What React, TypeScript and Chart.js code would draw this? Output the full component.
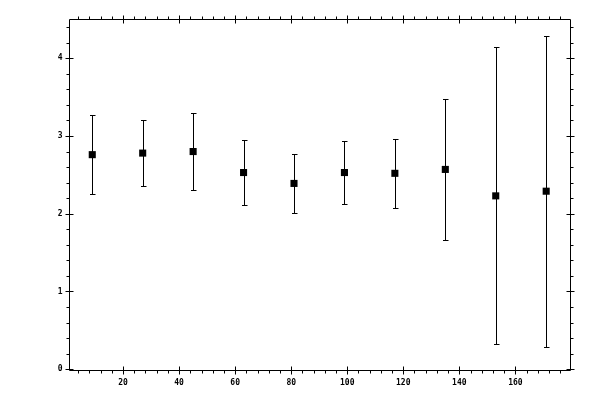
import { useEffect, useRef } from "react";
import { Chart, registerables } from "chart.js";

Chart.register(...registerables);

// bin centres and mean values with symmetric errors
const binCenters = [9, 27, 45, 63, 81, 99, 117, 135, 153, 171];
const means = [2.76, 2.78, 2.8, 2.53, 2.39, 2.53, 2.52, 2.57, 2.23, 2.29];
const errors = [0.51, 0.42, 0.5, 0.42, 0.38, 0.41, 0.44, 0.91, 1.91, 2.0];

const xMajorTicks = [20, 40, 60, 80, 100, 120, 140, 160];
const xMinorTicks = [4, 8, 12, 16, 24, 28, 32, 36, 44, 48, 52, 56, 64, 68, 72, 76, 84, 88, 92, 96, 104, 108, 112, 116, 124, 128, 132, 136, 144, 148, 152, 156, 164, 168, 172, 176];
const yMajorTicks = [0, 1, 2, 3, 4];
const yMinorTicks = [0.2, 0.4, 0.6, 0.8, 1.2, 1.4, 1.6, 1.8, 2.2, 2.4, 2.6, 2.8, 3.2, 3.4, 3.6, 3.8, 4.2, 4.4];

const errorBars = {
  id: "errorBars",
  beforeDatasetsDraw(chart: any) {
    const { ctx, scales } = chart;
    const x = scales.x;
    const y = scales.y;
    ctx.save();
    ctx.strokeStyle = "#000";
    ctx.lineWidth = 1;
    binCenters.forEach((c, i) => {
      const px = Math.round(x.getPixelForValue(c)) + 0.5;
      const top = Math.round(y.getPixelForValue(means[i] + errors[i])) + 0.5;
      const bot = Math.round(y.getPixelForValue(means[i] - errors[i])) + 0.5;
      ctx.beginPath();
      ctx.moveTo(px, top);
      ctx.lineTo(px, bot);
      ctx.moveTo(px - 2.5, top);
      ctx.lineTo(px + 3, top);
      ctx.moveTo(px - 2.5, bot);
      ctx.lineTo(px + 3, bot);
      ctx.stroke();
    });
    ctx.restore();
  },
};

const frame = {
  id: "frame",
  afterDraw(chart: any) {
    const { ctx, chartArea, scales } = chart;
    const { left, right, top, bottom } = chartArea;
    const L = Math.round(left) + 0.5;
    const R = Math.round(right) + 0.5;
    const T = Math.round(top) + 0.5;
    const B = Math.round(bottom) + 0.5;
    ctx.save();
    ctx.strokeStyle = "#000";
    ctx.lineWidth = 1;
    ctx.beginPath();
    ctx.rect(L, T, R - L, B - T);
    ctx.stroke();

    ctx.beginPath();
    xMinorTicks.forEach((v) => {
      const px = Math.round(scales.x.getPixelForValue(v)) + 0.5;
      ctx.moveTo(px, B);
      ctx.lineTo(px, B + 3);
      ctx.moveTo(px, T);
      ctx.lineTo(px, T - 3);
    });
    xMajorTicks.forEach((v) => {
      const px = Math.round(scales.x.getPixelForValue(v)) + 0.5;
      ctx.moveTo(px, B - 4);
      ctx.lineTo(px, B + 4);
      ctx.moveTo(px, T - 4);
      ctx.lineTo(px, T + 4);
    });
    yMinorTicks.forEach((v) => {
      const py = Math.round(scales.y.getPixelForValue(v)) + 0.5;
      ctx.moveTo(L, py);
      ctx.lineTo(L - 3, py);
      ctx.moveTo(R, py);
      ctx.lineTo(R + 3, py);
    });
    yMajorTicks.forEach((v) => {
      const py = Math.round(scales.y.getPixelForValue(v)) + 0.5;
      ctx.moveTo(L - 4, py);
      ctx.lineTo(L + 4, py);
      ctx.moveTo(R - 4, py);
      ctx.lineTo(R + 4, py);
    });
    ctx.stroke();

    ctx.fillStyle = "#000";
    ctx.font = "bold 8px 'DejaVu Sans Mono'";
    ctx.textAlign = "center";
    ctx.textBaseline = "middle";
    xMajorTicks.forEach((v) => {
      ctx.fillText(String(v), scales.x.getPixelForValue(v), B + 12);
    });
    ctx.textAlign = "right";
    yMajorTicks.forEach((v) => {
      ctx.fillText(String(v), L - 7, scales.y.getPixelForValue(v));
    });
    ctx.restore();
  },
};

export default function App() {
  const canvasRef = useRef<HTMLCanvasElement>(null);

  useEffect(() => {
    if (!canvasRef.current) return;
    const chart = new Chart(canvasRef.current, {
      type: "scatter",
      data: {
        datasets: [
          {
            data: binCenters.map((c, i) => ({ x: c, y: means[i] })),
            pointStyle: "rect",
            pointRadius: 5,
            borderWidth: 0,
            backgroundColor: "#000",
            borderColor: "#000",
          },
        ],
      },
      options: {
        responsive: false,
        animation: false,
        devicePixelRatio: 1,
        layout: { padding: { left: 69, top: 19, right: 30, bottom: 30 } },
        plugins: { legend: { display: false }, tooltip: { enabled: false } },
        scales: {
          x: { type: "linear", min: 0.7, max: 179.5, display: false },
          y: { type: "linear", min: -0.01, max: 4.505, display: false },
        },
      },
      plugins: [errorBars, frame],
    });
    return () => chart.destroy();
  }, []);

  return (
    <div style={{ position: "fixed", left: 0, top: 0, width: 600, height: 400, background: "#fff" }}>
      <canvas ref={canvasRef} width={600} height={400} />
    </div>
  );
}
